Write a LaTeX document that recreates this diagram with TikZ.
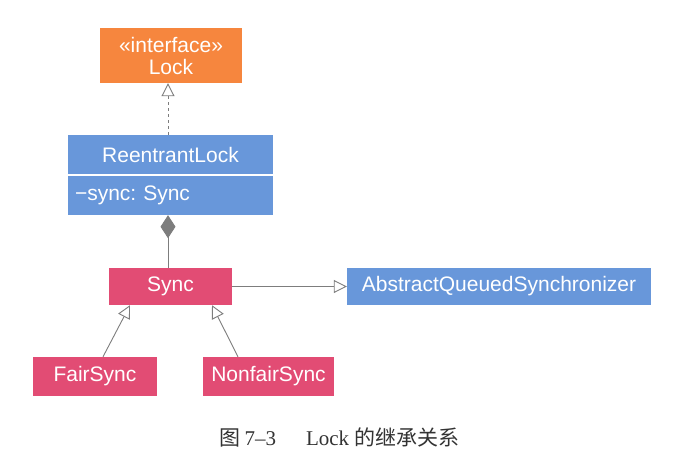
\documentclass[tikz,border=0pt]{standalone}
\usepackage{fontspec}
\setmainfont{Liberation Sans}
\newfontfamily\capserif{Liberation Serif}
\newfontfamily\cjk{Noto Sans CJK SC}
\usetikzlibrary{arrows.meta}
\frenchspacing

\definecolor{ifaceorange}{RGB}{246,134,62}
\definecolor{classblue}{RGB}{104,151,218}
\definecolor{innerpink}{RGB}{226,76,116}
\definecolor{linegray}{RGB}{125,125,125}

\tikzset{
  umlbox/.style={rectangle, inner sep=0pt, text=white,
    font=\fontsize{21}{22}\selectfont},
  ifacebox/.style={umlbox, fill=ifaceorange, align=center},
  classbox/.style={umlbox, fill=classblue},
  innerbox/.style={umlbox, fill=innerpink},
  umlline/.style={draw=linegray, line width=0.9pt},
  realizes/.style={umlline, dashed, -{Triangle[open, length=13pt, width=13pt, fill=white]}},
  extends/.style={umlline, -{Triangle[open, length=13pt, width=13pt, fill=white]}},
  owns/.style={umlline, -{Diamond[length=23pt, width=15pt, fill=linegray]}}
}

\begin{document}
\begin{tikzpicture}[x=1pt, y=-1pt]
    \useasboundingbox (0,0) rectangle (680,460);

    % classes
    \node[ifacebox, minimum width=142pt, minimum height=55pt] (lock) at (171,55.5)
      {«interface»\\Lock};
    \node[classbox, minimum width=205pt, minimum height=40pt] (rlock) at (170.5,155)
      {ReentrantLock};
    \node[classbox, text width=191pt, inner xsep=7pt, align=left, minimum height=40pt]
      (rfield) at (170.5,195) {−sync: Sync};
    \draw[white, line width=1.5pt] (rlock.south west) -- (rlock.south east);

    \node[innerbox, minimum width=123pt, minimum height=37pt] (sync) at (170.5,286.5) {Sync};
    \node[classbox, minimum width=304pt, minimum height=37pt] (aqs) at (499,286.5)
      {AbstractQueuedSynchronizer};
    \node[innerbox, minimum width=124pt, minimum height=39pt] (fair) at (95,376.5) {FairSync};
    \node[innerbox, minimum width=131pt, minimum height=39pt] (nonfair) at (268.5,376.5)
      {NonfairSync};

    % relations
    \draw[realizes] ([xshift=-2.5pt]rlock.north) -- ([xshift=-3pt]lock.south);
    \draw[owns] ([xshift=-2.5pt]sync.north) -- ([xshift=-2.5pt]rfield.south);
    \draw[extends] (sync.east) -- (aqs.west);
    \draw[extends] ([xshift=8pt]fair.north) -- ([xshift=-40.5pt]sync.south);
    \draw[extends] ([xshift=-30.5pt]nonfair.north) -- ([xshift=41.5pt]sync.south);

    % caption
    \node[font=\fontsize{21}{24}\selectfont, text=black!80] (caption) at (339.5,437)
      {\cjk 图\hspace{4pt}\capserif 7–3\hspace{30pt}Lock \cjk 的继承关系};
\end{tikzpicture}
\end{document}
